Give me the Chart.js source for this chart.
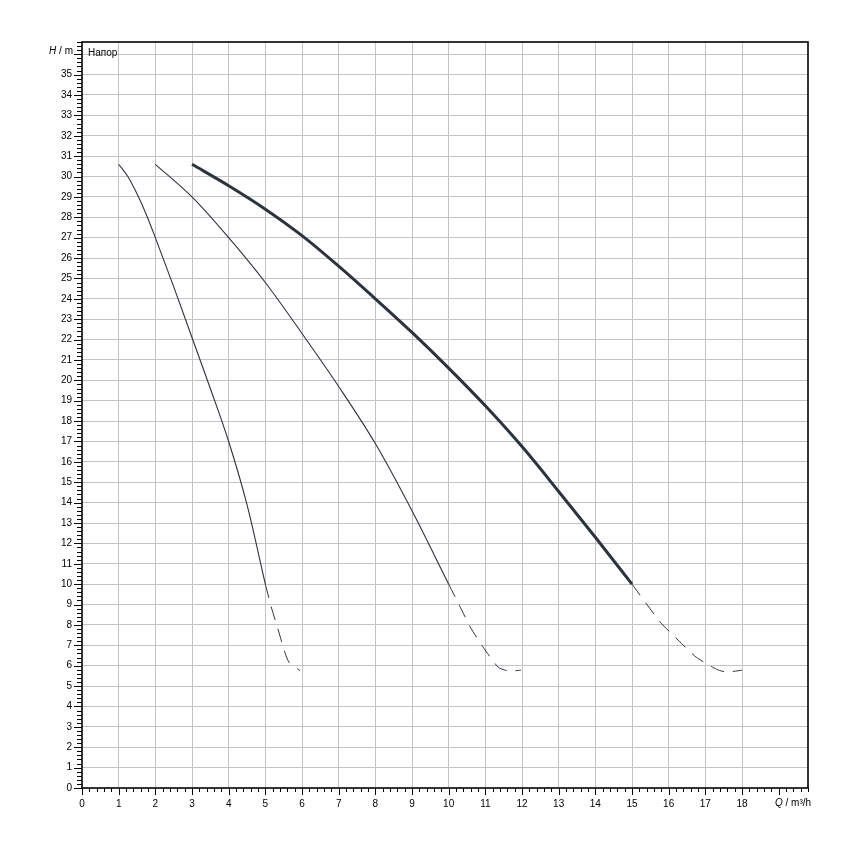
<!DOCTYPE html>
<html>
<head>
<meta charset="utf-8">
<script src="https://cdn.jsdelivr.net/npm/chart.js@4.4.0/dist/chart.umd.min.js"></script>
<style>
html,body{margin:0;padding:0;background:#fff;}
#wrap{width:850px;height:850px;}
</style>
</head>
<body>
<div id="wrap"><canvas id="c" width="850" height="850"></canvas></div>
<script>
// Curve data (Q in m³/h, H in m)
const q1  = [1, 1.25, 1.5, 1.75, 2, 2.5, 3, 3.5, 4, 4.5, 5];
const h1  = [30.6, 30.0, 29.15, 28.15, 27.0, 24.6, 22.1, 19.6, 17.0, 13.9, 10];
const q1d = [5, 5.16, 5.35, 5.54, 5.65, 5.95];
const h1d = [10, 8.89, 7.76, 6.62, 6.16, 5.75];

const q2  = [2, 3, 4, 5, 6, 7, 8, 9, 10];
const h2  = [30.6, 29.0, 27.0, 24.8, 22.3, 19.7, 16.9, 13.6, 10];
const q2d = [10, 10.29, 10.59, 10.94, 11.35, 11.63, 11.97];
const h2d = [10, 8.97, 7.89, 6.91, 5.93, 5.74, 5.78];

const q3  = [3, 4, 5, 6, 7, 8, 9, 10, 11, 12, 13, 14, 15];
const h3  = [30.6, 29.55, 28.4, 27.1, 25.6, 24.0, 22.35, 20.6, 18.75, 16.75, 14.55, 12.3, 10];
const q3d = [15, 15.77, 16.26, 16.75, 17.3, 17.57, 18];
const h3d = [10, 8.14, 7.25, 6.42, 5.83, 5.69, 5.78];

const xMin = 0, xMax = 19.8, yMin = 0, yMax = 36.6;
const xTitleTick = 19, yTitleTick = 36;
const seriesLabel = 'Напор';

const pts = (q, h) => q.map((v, i) => ({x: v, y: h[i]}));
const LINE = '#2c333d';
const FONT = '"Liberation Sans", Arial, sans-serif';

function solid(q, h, w) {
  return {data: pts(q, h), borderColor: LINE, borderWidth: w, pointRadius: 0,
          cubicInterpolationMode: 'monotone', fill: false};
}
function dashed(q, h) {
  return {data: pts(q, h), borderColor: LINE, borderWidth: 1, pointRadius: 0,
          borderDash: [14, 9], tension: 0.2, fill: false};
}

const isInt = v => Math.abs(v - Math.round(v)) < 1e-6;

const decor = {
  id: 'decor',
  afterDraw(chart) {
    const ctx = chart.ctx, a = chart.chartArea;
    const xs = chart.scales.x, ys = chart.scales.y;
    ctx.save();
    ctx.strokeStyle = '#000';
    ctx.lineWidth = 1;
    ctx.beginPath();
    for (let i = 0; i <= Math.round(yMax * 5); i++) {
      const v = i / 5;
      const y = Math.round(ys.getPixelForValue(v)) + 0.5;
      const len = (i % 5 === 0) ? 8 : 5;
      ctx.moveTo(a.left - len, y); ctx.lineTo(a.left, y);
    }
    for (let i = 0; i <= Math.round(xMax * 5); i++) {
      const v = i / 5;
      const x = Math.round(xs.getPixelForValue(v)) + 0.5;
      const len = (i % 5 === 0) ? 7 : 4;
      ctx.moveTo(x, a.bottom); ctx.lineTo(x, a.bottom + len);
    }
    ctx.stroke();
    ctx.lineWidth = 1.6;
    ctx.strokeRect(Math.round(a.left), Math.round(a.top), Math.round(a.right - a.left), Math.round(a.bottom - a.top));
    ctx.fillStyle = '#000';
    ctx.textBaseline = 'middle';
    const yT = ys.getPixelForValue(yTitleTick) - 3;
    ctx.font = '10px ' + FONT;
    const restY = ' / m';
    const wr = ctx.measureText(restY).width;
    ctx.textAlign = 'right';
    ctx.fillText(restY, 73, yT);
    ctx.font = 'italic 10px ' + FONT;
    ctx.fillText('H', 73 - wr, yT);
    const xT = 775, yX = 803;
    ctx.textAlign = 'left';
    ctx.font = 'italic 10px ' + FONT;
    ctx.fillText('Q', xT, yX);
    const wq = ctx.measureText('Q').width;
    ctx.font = '10px ' + FONT;
    ctx.fillText(' / m³/h', xT + wq, yX);
    ctx.font = '10px ' + FONT;
    ctx.fillText(seriesLabel, a.left + 6, ys.getPixelForValue(yTitleTick) - 1);
    ctx.restore();
  }
};

new Chart(document.getElementById('c'), {
  type: 'line',
  data: {
    datasets: [
      solid(q1, h1, 1.1), dashed(q1d, h1d),
      solid(q2, h2, 1.1), dashed(q2d, h2d),
      solid(q3, h3, 3), dashed(q3d, h3d)
    ]
  },
  options: {
    responsive: false,
    animation: false,
    layout: {padding: {left: 0, top: 42, right: 42, bottom: 0}},
    plugins: {legend: {display: false}, tooltip: {enabled: false}},
    scales: {
      x: {
        type: 'linear', min: xMin, max: xMax,
        afterFit: s => { s.height = 62; },
        grid: {color: c => (c.tick && isInt(c.tick.value) && c.tick.value > 0) ? '#c3c3c3' : 'rgba(0,0,0,0)', drawTicks: false, lineWidth: 1},
        border: {display: false},
        ticks: {stepSize: 1, autoSkip: false, maxRotation: 0, padding: 10, color: '#000',
                font: {family: FONT, size: 10},
                callback: v => (isInt(v) && v !== xTitleTick) ? String(v) : ''}
      },
      y: {
        type: 'linear', min: yMin, max: yMax,
        afterFit: s => { s.width = 82; },
        grid: {color: c => (c.tick && isInt(c.tick.value) && c.tick.value > 0) ? '#c3c3c3' : 'rgba(0,0,0,0)', drawTicks: false, lineWidth: 1},
        border: {display: false},
        ticks: {stepSize: 1, autoSkip: false, padding: 10, color: '#000',
                font: {family: FONT, size: 10},
                callback: v => (isInt(v) && v !== yTitleTick) ? String(v) : ''}
      }
    }
  },
  plugins: [decor]
});
</script>
</body>
</html>
